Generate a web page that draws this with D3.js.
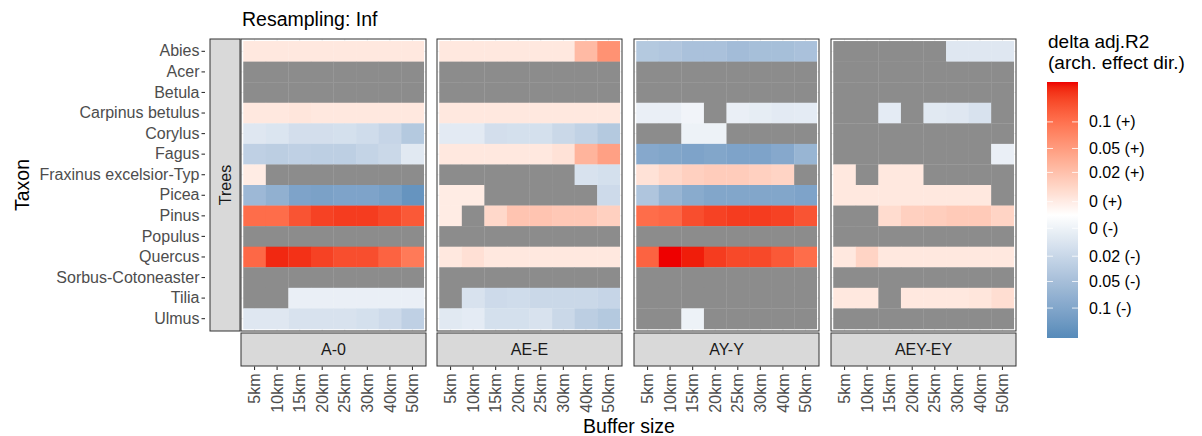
<!DOCTYPE html>
<html>
<head>
<meta charset="utf-8">
<script src="https://cdn.jsdelivr.net/npm/d3@7"></script>
<style>
  body { margin: 0; background: #fff; }
  text { font-family: "Liberation Sans", Arial, sans-serif; }
</style>
</head>
<body>
<script>
// ---------- data (values on the legend's signed scale, null = no data) ----------
const taxa = ["Abies", "Acer", "Betula", "Carpinus betulus", "Corylus", "Fagus",
  "Fraxinus excelsior-Typ", "Picea", "Pinus", "Populus", "Quercus",
  "Sorbus-Cotoneaster", "Tilia", "Ulmus"];
const buffers = ["5km", "10km", "15km", "20km", "25km", "30km", "40km", "50km"];
const panels = ["A-0", "AE-E", "AY-Y", "AEY-EY"];
const N = null;

const valsA0 = [
  [0.12, 0.12, 0.12, 0.12, 0.12, 0.12, 0.12, 0.12],
  [N, N, N, N, N, N, N, N],
  [N, N, N, N, N, N, N, N],
  [0.12, 0.12, 0.13, 0.12, 0.12, 0.12, 0.12, 0.12],
  [-0.18, -0.2, -0.25, -0.25, -0.24, -0.27, -0.32, -0.42],
  [-0.36, -0.38, -0.36, -0.37, -0.37, -0.33, -0.3, -0.17],
  [0.1, N, N, N, N, N, N, N],
  [-0.55, -0.62, -0.72, -0.74, -0.72, -0.72, -0.76, -0.85],
  [0.72, 0.72, 0.82, 0.88, 0.9, 0.9, 0.86, 0.8],
  [N, N, N, N, N, N, N, N],
  [0.74, 0.95, 0.93, 0.88, 0.84, 0.84, 0.76, 0.66],
  [N, N, N, N, N, N, N, N],
  [N, N, -0.12, -0.12, -0.12, -0.12, -0.12, -0.12],
  [-0.18, -0.18, -0.22, -0.22, -0.22, -0.24, -0.28, -0.36]
];
const valsAEE = [
  [0.12, 0.12, 0.12, 0.12, 0.12, 0.12, 0.35, 0.55],
  [N, N, N, N, N, N, N, N],
  [N, N, N, N, N, N, N, N],
  [0.12, 0.12, 0.12, 0.12, 0.12, 0.12, 0.12, 0.12],
  [-0.16, -0.16, -0.25, -0.24, -0.24, -0.3, -0.35, -0.42],
  [0.12, 0.12, 0.12, 0.12, 0.12, 0.15, 0.38, 0.48],
  [N, N, N, N, N, N, -0.22, -0.24],
  [0.1, 0.1, N, N, N, N, N, -0.28],
  [0.1, N, 0.2, 0.3, 0.3, 0.28, 0.28, 0.24],
  [N, N, N, N, N, N, N, N],
  [0.12, 0.16, 0.12, 0.12, 0.12, 0.12, 0.12, 0.12],
  [N, N, N, N, N, N, N, N],
  [N, -0.22, -0.28, -0.27, -0.3, -0.3, -0.3, -0.32],
  [-0.17, -0.15, -0.24, -0.24, -0.22, -0.3, -0.38, -0.42]
];
const valsAYY = [
  [-0.42, -0.44, -0.48, -0.48, -0.52, -0.5, -0.5, -0.48],
  [N, N, N, N, N, N, N, N],
  [N, N, N, N, N, N, N, N],
  [-0.12, -0.12, -0.08, N, -0.12, -0.14, -0.16, -0.15],
  [N, N, -0.1, -0.1, N, N, N, N],
  [-0.68, -0.7, -0.72, -0.7, -0.72, -0.72, -0.68, -0.58],
  [0.15, 0.2, 0.24, 0.26, 0.26, 0.24, 0.22, N],
  [-0.45, -0.58, -0.66, -0.7, -0.7, -0.7, -0.7, -0.72],
  [0.72, 0.74, 0.84, 0.88, 0.9, 0.9, 0.88, 0.82],
  [N, N, N, N, N, N, N, N],
  [0.76, 1.0, 0.97, 0.9, 0.86, 0.86, 0.8, 0.72],
  [N, N, N, N, N, N, N, N],
  [N, N, N, N, N, N, N, N],
  [N, N, -0.1, N, N, N, N, N]
];
const valsAEYEY = [
  [N, N, N, N, N, -0.18, -0.18, -0.18],
  [N, N, N, N, N, N, N, N],
  [N, N, N, N, N, N, N, N],
  [N, N, -0.15, N, -0.17, -0.18, -0.22, N],
  [N, N, N, N, N, N, N, N],
  [N, N, N, N, N, N, N, -0.12],
  [0.12, N, 0.12, 0.12, N, N, N, N],
  [0.12, 0.12, 0.12, 0.12, 0.12, 0.12, 0.12, N],
  [N, N, 0.18, 0.24, 0.25, 0.27, 0.27, 0.22],
  [N, N, N, N, N, N, N, N],
  [0.12, 0.22, 0.12, 0.12, 0.12, 0.12, 0.12, 0.12],
  [N, N, N, N, N, N, N, N],
  [0.12, 0.12, N, 0.12, 0.12, 0.12, 0.13, 0.17],
  [N, N, N, N, N, N, N, N]
];
const panelValues = [valsA0, valsAEE, valsAYY, valsAEYEY];

const legendTicks = [0.70, 0.50, 0.32, 0.10, -0.10, -0.31, -0.50, -0.70];
const legendLabels = ["0.1 (+)", "0.05 (+)", "0.02 (+)", "0 (+)",
  "0 (-)", "0.02 (-)", "0.05 (-)", "0.1 (-)"];
const legendLimits = [-0.925, 1.0];

// ---------- layout ----------
const width = 1202, height = 436;
const panelTop = 39, panelBottom = 331;
const panelLefts = [241, 437, 634, 831];
const panelW = 185;
const naColor = "#8c8c8c";
const fontFamily = "Liberation Sans, Arial, sans-serif";

// gradient2 style: steelblue - white - red, interpolated in Lab
const color = v => {
  if (v == null) return naColor;
  if (v >= 0) return d3.interpolateLab("#ffffff", "#ee0000")(Math.min(v, 1));
  return d3.interpolateLab("#ffffff", "#4682b4")(Math.min(-v, 1));
};

const svg = d3.select("body").append("svg")
  .attr("width", width)
  .attr("height", height);

const x = d3.scaleBand().domain(buffers).range([0, panelW]).paddingInner(0).paddingOuter(0.1);
const y = d3.scaleBand().domain(taxa).range([panelTop, panelBottom]).paddingInner(0).paddingOuter(0.1);

// title
svg.append("text")
  .attr("x", 242).attr("y", 25.5)
  .style("font-size", "19.5px").attr("fill", "#000")
  .text("Resampling: Inf");

// y axis
const yAxis = svg.append("g").attr("transform", "translate(205,0)")
  .call(d3.axisLeft(y).tickSize(3.5).tickPadding(2));
yAxis.select(".domain").remove();
yAxis.selectAll("line").attr("stroke", "#333").attr("stroke-width", 1.1);
yAxis.selectAll("text").style("font-size", "16px").attr("fill", "#4d4d4d")
  .style("font-family", fontFamily);

// y title
svg.append("text")
  .attr("transform", "translate(29,185) rotate(-90)")
  .attr("text-anchor", "middle")
  .style("font-size", "19.5px")
  .text("Taxon");

// left strip "Trees"
svg.append("rect")
  .attr("x", 210).attr("y", panelTop).attr("width", 30).attr("height", panelBottom - panelTop)
  .attr("fill", "#d9d9d9").attr("stroke", "#333").attr("stroke-width", 1);
svg.append("text")
  .attr("transform", `translate(230.5,${(panelTop + panelBottom) / 2}) rotate(-90)`)
  .attr("text-anchor", "middle")
  .style("font-size", "16px").attr("fill", "#1a1a1a")
  .text("Trees");

// panels
panels.forEach((p, pi) => {
  const g = svg.append("g").attr("transform", `translate(${panelLefts[pi]},0)`);

  g.append("rect").attr("x", 0).attr("y", panelTop)
    .attr("width", panelW).attr("height", panelBottom - panelTop).attr("fill", "#fff");

  // grid
  g.selectAll(".vg").data(buffers).join("line")
    .attr("x1", d => x(d) + x.bandwidth() / 2).attr("x2", d => x(d) + x.bandwidth() / 2)
    .attr("y1", panelTop).attr("y2", panelBottom)
    .attr("stroke", "#ebebeb").attr("stroke-width", 0.8);
  g.selectAll(".hg").data(taxa).join("line")
    .attr("y1", d => y(d) + y.bandwidth() / 2).attr("y2", d => y(d) + y.bandwidth() / 2)
    .attr("x1", 0).attr("x2", panelW)
    .attr("stroke", "#ebebeb").attr("stroke-width", 0.8);

  const cells = [];
  panelValues[pi].forEach((row, ri) => row.forEach((v, ci) => {
    cells.push({ taxon: taxa[ri], buffer: buffers[ci], value: v });
  }));

  g.selectAll(".cell").data(cells).join("rect")
    .attr("x", d => x(d.buffer))
    .attr("y", d => y(d.taxon))
    .attr("width", x.bandwidth() + 0.3)
    .attr("height", y.bandwidth() + 0.3)
    .attr("fill", d => color(d.value));

  g.append("rect").attr("x", 0).attr("y", panelTop)
    .attr("width", panelW).attr("height", panelBottom - panelTop)
    .attr("fill", "none").attr("stroke", "#333").attr("stroke-width", 1);

  // bottom strip
  g.append("rect").attr("x", 0).attr("y", 333).attr("width", panelW).attr("height", 33)
    .attr("fill", "#d9d9d9").attr("stroke", "#333").attr("stroke-width", 1);
  g.append("text")
    .attr("x", panelW / 2).attr("y", 355)
    .attr("text-anchor", "middle")
    .style("font-size", "16px").attr("fill", "#1a1a1a")
    .text(p);

  // x axis
  const xa = g.append("g").attr("transform", "translate(0,366.5)")
    .call(d3.axisBottom(x).tickSize(3.5).tickPadding(3));
  xa.select(".domain").remove();
  xa.selectAll("line").attr("stroke", "#333").attr("stroke-width", 1.1);
  xa.selectAll("text")
    .style("font-size", "16px").attr("fill", "#4d4d4d")
    .style("font-family", fontFamily)
    .attr("text-anchor", "end")
    .attr("dy", "0.35em")
    .attr("transform", "rotate(-90)")
    .attr("x", -7).attr("y", 0);
});

// x title
svg.append("text")
  .attr("x", 629).attr("y", 433)
  .attr("text-anchor", "middle")
  .style("font-size", "19.5px")
  .text("Buffer size");

// legend
const lx = 1047, lw = 31, lTop = 82, lBottom = 338;
svg.append("text").attr("x", 1048).attr("y", 47.5).style("font-size", "19px").text("delta adj.R2");
svg.append("text").attr("x", 1048).attr("y", 69).style("font-size", "19px").text("(arch. effect dir.)");

const ly = d3.scaleLinear().domain(legendLimits).range([lBottom, lTop]);
const defs = svg.append("defs");
const grad = defs.append("linearGradient").attr("id", "lg")
  .attr("x1", 0).attr("y1", 1).attr("x2", 0).attr("y2", 0);
d3.range(0, 1.0001, 0.02).forEach(t => {
  const v = legendLimits[0] + t * (legendLimits[1] - legendLimits[0]);
  grad.append("stop").attr("offset", t).attr("stop-color", color(v));
});
svg.append("rect").attr("x", lx).attr("y", lTop).attr("width", lw).attr("height", lBottom - lTop)
  .attr("fill", "url(#lg)");

const lt = svg.append("g");
legendTicks.forEach((t, i) => {
  lt.append("line").attr("x1", lx).attr("x2", lx + 6).attr("y1", ly(t)).attr("y2", ly(t))
    .attr("stroke", "#fff").attr("stroke-width", 0.8);
  lt.append("line").attr("x1", lx + lw - 6).attr("x2", lx + lw).attr("y1", ly(t)).attr("y2", ly(t))
    .attr("stroke", "#fff").attr("stroke-width", 0.8);
  lt.append("text").attr("x", 1089).attr("y", ly(t)).attr("dy", "0.35em")
    .style("font-size", "16px").attr("fill", "#000")
    .text(legendLabels[i]);
});
</script>
</body>
</html>
